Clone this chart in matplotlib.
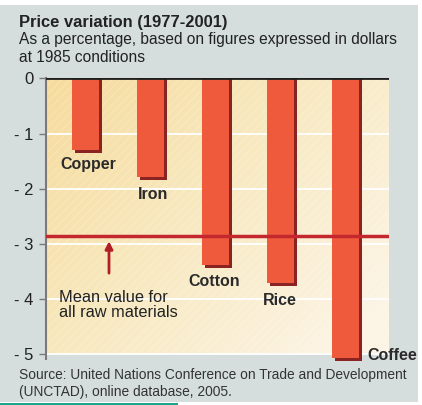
import numpy as np
import matplotlib
matplotlib.use("Agg")
import matplotlib.pyplot as plt
from matplotlib.patches import Rectangle
from matplotlib.colors import LinearSegmentedColormap

plt.rcParams["font.family"] = ["Liberation Sans", "DejaVu Sans"]

# --- data ---
materials = ["Copper", "Iron", "Cotton", "Rice", "Coffee"]
variation = [-1.29, -1.79, -3.38, -3.70, -5.07]
mean_all = -2.86
yticks = [0, -1, -2, -3, -4, -5]

W, H = 422, 405
fig = plt.figure(figsize=(W / 100, H / 100), dpi=100)
fig.patch.set_facecolor("white")


def fx(x):
    return x / W


def fy(y):
    return 1 - y / H


# grey card + teal rule at the bottom
fig.patches.append(Rectangle((0, fy(402)), fx(418), fy(5) - fy(402),
                             transform=fig.transFigure, facecolor="#d5dddd",
                             edgecolor="none", zorder=-10))
fig.patches.append(Rectangle((0, fy(404.5)), fx(178), 2 / H,
                             transform=fig.transFigure, facecolor="#1ea38c",
                             edgecolor="none", zorder=-10))

ax = fig.add_axes([fx(46), fy(362.6), fx(389) - fx(46), (362.6 - 78.3) / H])
ax.set_xlim(-0.611, 4.67)
ax.set_ylim(-5.15, 0)
ax.patch.set_visible(False)

# warm gradient background of the plot area
gx, gy = np.meshgrid(np.linspace(0, 1, 200), np.linspace(0, 1, 200))
t = np.clip(0.65 * gx + 0.45 * gy, 0, 1)
cmap = LinearSegmentedColormap.from_list("warm", ["#f6db9c", "#f8e9c0", "#fcf4e4"])
ax.imshow(t, cmap=cmap, extent=[-0.611, 4.67, -5, 0], origin="upper",
          aspect="auto", zorder=0, vmin=0, vmax=1)
ax.add_patch(Rectangle((-0.611, -5), 5.281, 5, facecolor="none",
                       edgecolor=(1, 1, 1, 0.18), hatch="////", lw=0, zorder=0.5))

# white gridlines
for v in yticks[1:]:
    ax.axhline(v, color="white", lw=1.3, zorder=1)

x = np.arange(len(materials))
bw = 0.416
dx = 3 / 64.95
dy = 3 / 55.2
ax.bar(x + dx, [v - dy for v in variation], width=bw, bottom=0,
       color="#8c2323", zorder=2)
ax.bar(x, variation, width=bw, color="#f05a3c", zorder=3)

# mean line and arrow
ax.axhline(mean_all, color="#c4282e", lw=2.5, zorder=4)
ax.annotate("", xy=(0.359, mean_all - 0.09), xytext=(0.359, -3.53),
            arrowprops=dict(arrowstyle="-|>", color="#b01e26", lw=2,
                            mutation_scale=11, shrinkA=0, shrinkB=0), zorder=5)
ax.text(-0.411, -4.11, "Mean value for\nall raw materials", fontsize=11.8,
        color="#222222", va="center", ha="left", linespacing=1.05, zorder=5)

# bar labels
label_pos = [(0.036, -1.57), (0.036, -2.10), (-0.017, -3.68), (-0.01, -4.03), (0.331, -5.03)]
for i, (name, (ox, oy)) in enumerate(zip(materials, label_pos)):
    ha = "left" if name == "Coffee" else "center"
    ax.text(i + ox, oy, name, fontsize=11.5, fontweight="bold", color="#2a2a2a",
            ha=ha, va="center", zorder=5, clip_on=False)

# top black line
ax.axhline(0, color="#1e1e1e", lw=2, zorder=6)

for s in ["top", "right", "bottom"]:
    ax.spines[s].set_visible(False)
ax.spines["left"].set_color("#7a7a7a")
ax.spines["left"].set_linewidth(1.5)
ax.spines["left"].set_bounds(-5.08, 0)
ax.set_xticks([])
ax.set_yticks(yticks)
ax.set_yticklabels([str(v) if v == 0 else "- %d" % -v for v in yticks])
ax.tick_params(axis="y", length=5, width=1, color="#7a7a7a", pad=4,
               labelsize=12, labelcolor="#222222")

# titles and source
fig.text(fx(19), fy(22), "Price variation (1977-2001)", fontsize=11.9,
         fontweight="bold", color="#222222", va="center")
fig.text(fx(19), fy(39.5), "As a percentage, based on figures expressed in dollars",
         fontsize=11.2, color="#222222", va="center")
fig.text(fx(19), fy(57), "at 1985 conditions", fontsize=11.2, color="#222222",
         va="center")
fig.text(fx(19), fy(375), "Source: United Nations Conference on Trade and Development",
         fontsize=9.9, color="#333333", va="center")
fig.text(fx(19), fy(392), "(UNCTAD), online database, 2005.", fontsize=9.9,
         color="#333333", va="center")

fig.savefig("out.png", dpi=100)
